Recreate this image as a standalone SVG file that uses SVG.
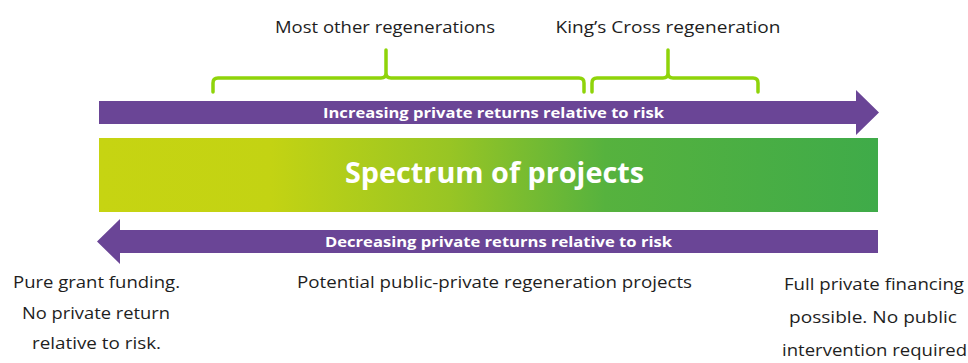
<svg xmlns="http://www.w3.org/2000/svg" width="968" height="363" viewBox="0 0 968 363">
  <defs>
    <linearGradient id="spectrum" x1="99" y1="0" x2="878" y2="0" gradientUnits="userSpaceOnUse">
      <stop offset="0" stop-color="#c6d412"/>
      <stop offset="0.22" stop-color="#c3d313"/>
      <stop offset="0.45" stop-color="#98c524"/>
      <stop offset="0.65" stop-color="#56b23e"/>
      <stop offset="1" stop-color="#3fab49"/>
    </linearGradient>
    <style>
      .label { font-family: "Open Sans", Lato, sans-serif; font-size: 16.5px; fill: #1e1e1e; text-anchor: middle; }
      .arrow-text { font-family: "Open Sans", Lato, sans-serif; font-size: 15px; font-weight: bold; fill: #fff; text-anchor: middle; }
      .title { font-family: "Open Sans", Lato, sans-serif; font-size: 28px; font-weight: bold; fill: #fff; text-anchor: middle; }
      .bar { fill: #6a4596; }
      .brace { fill: none; stroke: #8fd40a; stroke-width: 3.5; stroke-linecap: round; stroke-linejoin: round; }
    </style>
  </defs>

  <!-- range braces -->
  <g id="connectors">
    <path class="brace" d="M213 92 V83 Q213 78 218 78 H381 Q386 78 386 73 V50 M386 73 Q386 78 391 78 H579 Q584 78 584 83 V92"/>
    <path class="brace" d="M592 92 V83 Q592 78 597 78 H663 Q668 78 668 73 V50 M668 73 Q668 78 673 78 H753 Q758 78 758 83 V92"/>
  </g>

  <g id="label-most-other">
    <text class="label" x="385" y="33" textLength="220" lengthAdjust="spacingAndGlyphs">Most other regenerations</text>
  </g>
  <g id="label-kings-cross">
    <text class="label" x="668" y="33" textLength="225" lengthAdjust="spacingAndGlyphs">King’s Cross regeneration</text>
  </g>

  <!-- increasing returns arrow -->
  <g id="arrow-increasing">
    <polygon class="bar" points="99,101 856,101 856,90 879,112.5 856,135 856,124 99,124"/>
    <text class="arrow-text" x="493.5" y="117.5" textLength="341" lengthAdjust="spacingAndGlyphs">Increasing private returns relative to risk</text>
  </g>

  <!-- spectrum band -->
  <g id="spectrum-band">
    <rect x="99" y="138" width="779" height="74" fill="url(#spectrum)"/>
    <text class="title" x="494.5" y="183" textLength="299" lengthAdjust="spacingAndGlyphs">Spectrum of projects</text>
  </g>

  <!-- decreasing returns arrow -->
  <g id="arrow-decreasing">
    <polygon class="bar" points="878,230 120,230 120,219 97,241.5 120,264 120,253 878,253"/>
    <text class="arrow-text" x="498.5" y="247" textLength="347" lengthAdjust="spacingAndGlyphs">Decreasing private returns relative to risk</text>
  </g>

  <g id="label-grant">
    <text class="label" x="96.5" y="288" textLength="167" lengthAdjust="spacingAndGlyphs">Pure grant funding.</text>
    <text class="label" x="96" y="319" textLength="148" lengthAdjust="spacingAndGlyphs">No private return</text>
    <text class="label" x="96.5" y="349" textLength="129" lengthAdjust="spacingAndGlyphs">relative to risk.</text>
  </g>
  <g id="label-public-private">
    <text class="label" x="494.5" y="288" textLength="395" lengthAdjust="spacingAndGlyphs">Potential public-private regeneration projects</text>
  </g>
  <g id="label-private">
    <text class="label" x="874" y="290" textLength="180" lengthAdjust="spacingAndGlyphs">Full private financing</text>
    <text class="label" x="873" y="323" textLength="168" lengthAdjust="spacingAndGlyphs">possible. No public</text>
    <text class="label" x="874.5" y="356" textLength="185" lengthAdjust="spacingAndGlyphs">intervention required</text>
  </g>
</svg>
